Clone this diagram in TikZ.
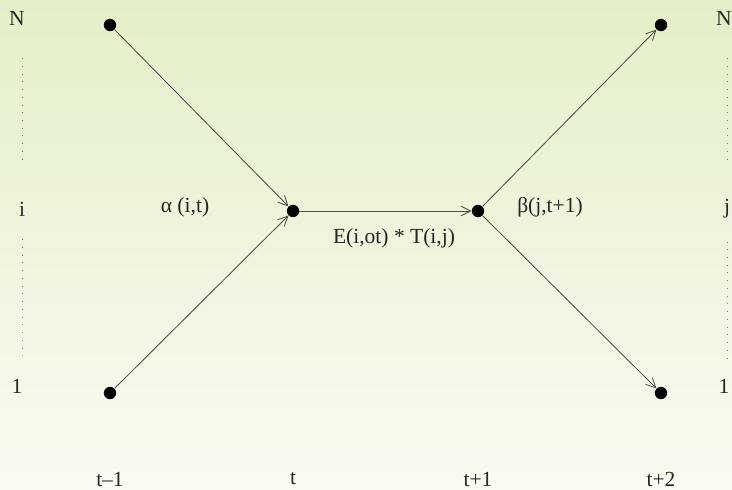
\documentclass[tikz,border=0pt]{standalone}
\usepackage{fontspec}
\setmainfont{Liberation Serif}
\usetikzlibrary{arrows.meta, positioning}

\definecolor{bgtop}{RGB}{228,239,200}
\definecolor{bgbottom}{RGB}{249,251,242}

\begin{document}
\begin{tikzpicture}[
  x=0.025cm, y=-0.025cm,
  every node/.style={font=\fontsize{15.3}{17}\selectfont, text=black!85},
  state/.style={circle, fill=black, inner sep=0pt, minimum size=3.1mm},
  lab/.style={inner sep=2pt},
  arr/.style={-{Straight Barb[length=2.4mm, width=2.4mm, open]}, draw=black!70, line width=0.6pt},
  vdots/.style={draw=black!50, line width=0.7pt, dash pattern=on 0.7pt off 4.8pt}
]
  % background
  \shade[top color=bgtop, bottom color=bgbottom] (0,0) rectangle (732,489);
  \useasboundingbox (0,0) rectangle (732,489);

  % states
  \node[state] (A) at (110,25) {};
  \node[state] (B) at (110,393) {};
  \node[state] (C) at (293,211) {};
  \node[state] (D) at (478,211) {};
  \node[state] (E) at (661,25) {};
  \node[state] (F) at (661,393) {};

  % row labels
  \node[lab] (lN) at (17,18) {N};
  \node[lab] (li) at (22,209) {i};
  \node[lab] (l1) at (17,386) {1};
  \node[lab] (rN) at (724,18) {N};
  \node[lab] (rj) at (727,209) {j};
  \node[lab] (r1) at (724,386) {1};

  % time labels
  \node at (110,479) {t\textendash1};
  \node at (293,479) {t};
  \node at (478,479) {t+1};
  \node at (661,479) {t+2};

  % dotted columns
  \draw[vdots, shorten <=0.75cm, shorten >=0.85cm] (lN.south -| li) -- (li.north);
  \draw[vdots, shorten <=0.5cm, shorten >=0.45cm] (li.south) -- (l1.north -| li);
  \draw[vdots, shorten <=0.75cm, shorten >=0.85cm] (rN.south -| rj) -- (rj.north);
  \draw[vdots, shorten <=0.5cm, shorten >=0.45cm] (rj.south) -- (r1.north -| rj);

  % transitions
  \draw[arr] (A) -- (C);
  \draw[arr] (B) -- (C);
  \draw[arr] (C) -- (D);
  \draw[arr] (D) -- (E);
  \draw[arr] (D) -- (F);

  \node at (185,207) {α (i,t)};
  \node at (550,207) {β(j,t+1)};
  \node at (394,238) {E(i,ot) * T(i,j)};
\end{tikzpicture}
\end{document}
